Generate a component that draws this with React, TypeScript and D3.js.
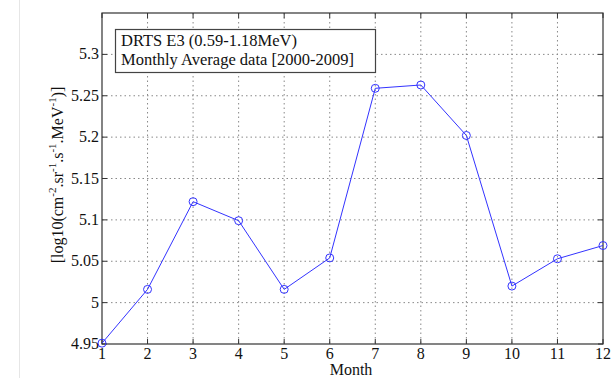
import React from "react";
import * as d3 from "d3";

const months = [1, 2, 3, 4, 5, 6, 7, 8, 9, 10, 11, 12];
const values = [4.951, 5.016, 5.122, 5.099, 5.016, 5.054, 5.259, 5.263, 5.202, 5.02, 5.053, 5.069];
const yTicks = [4.95, 5, 5.05, 5.1, 5.15, 5.2, 5.25, 5.3];
const legendLines = ["DRTS E3 (0.59-1.18MeV)", "Monthly Average data [2000-2009]"];

const W = 614, H = 378;
const L = 102, R = 603, T = 13, B = 344;

export default function App() {
  const x = d3.scaleLinear().domain([1, 12]).range([L, R]);
  const y = d3.scaleLinear().domain([4.95, 5.35]).range([B, T]);
  const line = d3.line<number>().x((_, i) => x(months[i])).y((d) => y(d));
  const font = "'Liberation Serif', 'Times New Roman', serif";
  const fs = 16;
  return (
    <svg width={W} height={H} style={{ position: "absolute", left: 0, top: 0, background: "#fff" }} fontFamily={font}>
      <line x1={19.5} x2={19.5} y1={0} y2={H} stroke="#e6e6e6" strokeWidth={1} />
      {/* grid */}
      {months.slice(1, -1).map((m) => (
        <line key={"gx" + m} x1={x(m)} x2={x(m)} y1={T} y2={B} stroke="#888" strokeWidth={1} strokeDasharray="1.5,3" />
      ))}
      {yTicks.slice(1).map((v) => (
        <line key={"gy" + v} x1={L} x2={R} y1={y(v)} y2={y(v)} stroke="#888" strokeWidth={1} strokeDasharray="1.5,3" />
      ))}
      {/* ticks */}
      {months.map((m) => (
        <g key={"tx" + m}>
          <line x1={x(m)} x2={x(m)} y1={B} y2={B - 5} stroke="#333" />
          <line x1={x(m)} x2={x(m)} y1={T} y2={T + 5} stroke="#333" />
          <text x={x(m)} y={359} textAnchor="middle" fontSize={fs} fill="#111">{m}</text>
        </g>
      ))}
      {yTicks.map((v) => (
        <g key={"ty" + v}>
          <line x1={L} x2={L + 5} y1={y(v)} y2={y(v)} stroke="#333" />
          <line x1={R} x2={R - 5} y1={y(v)} y2={y(v)} stroke="#333" />
          <text x={L - 3} y={y(v) + 5} textAnchor="end" fontSize={fs} fill="#111">{String(v)}</text>
        </g>
      ))}
      <rect x={L} y={T} width={R - L} height={B - T} fill="none" stroke="#333" strokeWidth={1.2} />
      {/* data */}
      <path d={line(values) || ""} fill="none" stroke="#3333ff" strokeWidth={1} />
      {values.map((v, i) => (
        <circle key={"c" + i} cx={x(months[i])} cy={y(v)} r={4} fill="none" stroke="#3333ff" strokeWidth={1} />
      ))}
      {/* legend */}
      <rect x={115.5} y={29.5} width={260} height={43} fill="#fff" stroke="#444" strokeWidth={1.2} />
      <text x={121} y={46} fontSize={16.5} fill="#111">{legendLines[0]}</text>
      <text x={121} y={65} fontSize={16.5} fill="#111">{legendLines[1]}</text>
      {/* axis labels */}
      <text x={351} y={375} textAnchor="middle" fontSize={fs} fill="#111">Month</text>
      <text transform={`translate(63,175) rotate(-90)`} textAnchor="middle" fontSize={fs} fill="#111">
        [log10(cm<tspan dy={-7} fontSize={11}>-2</tspan><tspan dy={7}>.sr</tspan>
        <tspan dy={-7} fontSize={11}>-1</tspan><tspan dy={7}>.s</tspan>
        <tspan dy={-7} fontSize={11}>-1</tspan><tspan dy={7}>.MeV</tspan>
        <tspan dy={-7} fontSize={11}>-1</tspan><tspan dy={7}>)]</tspan>
      </text>
    </svg>
  );
}
